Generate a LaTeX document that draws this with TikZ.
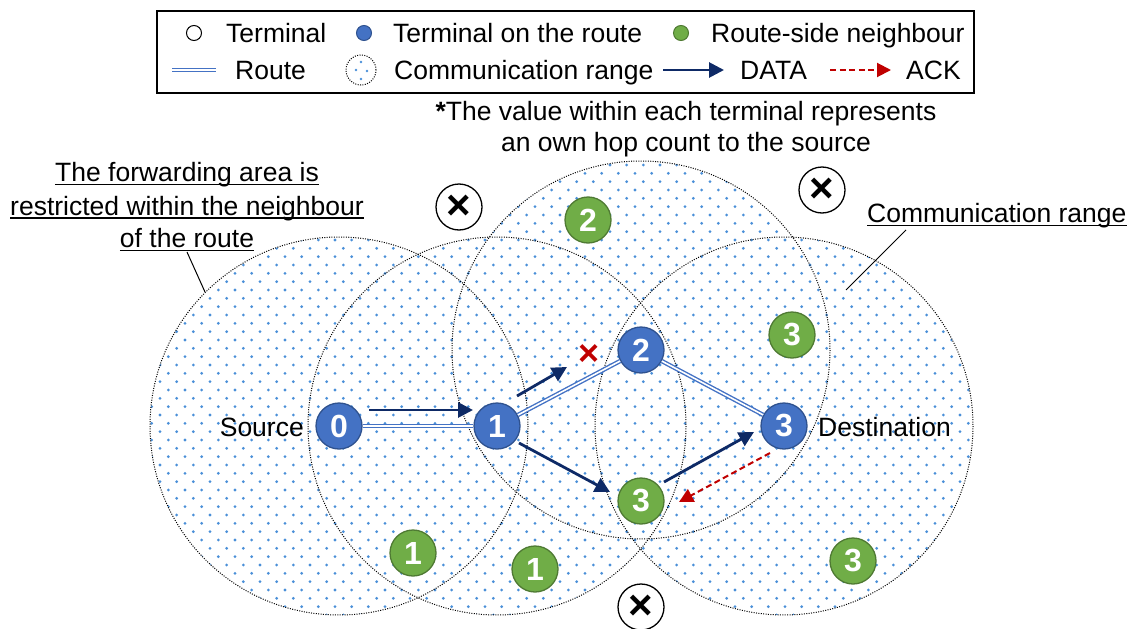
\documentclass[tikz,border=0pt]{standalone}
\usepackage{fontspec}
\setmainfont{Liberation Sans}
\usetikzlibrary{arrows.meta}

\definecolor{routeblue}{HTML}{4472C4}
\definecolor{routeedge}{HTML}{2F528F}
\definecolor{sidegreen}{HTML}{70AD47}
\definecolor{greenedge}{HTML}{4F7A33}
\definecolor{dotblue}{HTML}{4A8FD8}
\definecolor{datanavy}{HTML}{0E2A66}
\definecolor{ackred}{HTML}{C00000}

\begin{document}
\begin{tikzpicture}[x=1pt,y=-1pt,
  term/.style={circle, minimum size=46pt, inner sep=0pt, line width=1.3pt,
    text=white, font=\fontsize{32}{32}\selectfont\bfseries},
  onroute/.style={term, fill=routeblue, draw=routeedge},
  sidenb/.style={term, fill=sidegreen, draw=greenedge},
  blocked/.style={circle, minimum size=46pt, inner sep=0pt, line width=1.3pt,
    draw=black, fill=white, font=\fontsize{42}{42}\selectfont\bfseries},
  legmark/.style={circle, minimum size=15pt, inner sep=0pt, line width=1pt},
  rangeline/.style={draw=black, line width=1pt, dash pattern=on 1pt off 1.4pt},
  route/.style={draw=routeblue, double=white, double distance=1.6pt, line width=1.4pt},
  data/.style={draw=datanavy, line width=2.8pt, -{Triangle[length=15pt,width=15pt]}},
  ack/.style={draw=ackred, line width=2pt, dash pattern=on 6pt off 3.5pt,
    -{Triangle[length=14pt,width=14pt]}},
  lbl/.style={inner sep=0pt, font=\fontsize{26.5}{32}\selectfont},
  leader/.style={draw=black, line width=1pt},
  uline/.style={draw=black, line width=1.8pt}
]
\useasboundingbox (0,0) rectangle (1127,629);

% terminal positions
\coordinate (p0) at (339,426);
\coordinate (p1) at (497,426);
\coordinate (p2) at (641,350);
\coordinate (p3) at (784,426);

% dotted fill of the four communication ranges
\begin{scope}
  \clip (p0) circle[radius=189] (p1) circle[radius=189]
        (p2) circle[radius=189] (p3) circle[radius=189];
  \foreach \k in {-29,...,26}{
    \pgfmathsetmacro{\yy}{398.333+8.3333*\k}
    \pgfmathsetmacro{\xo}{160-8.3333*mod(\k+30,2)}
    \fill[dotblue] \foreach \i in {0,...,50}{ (\xo+16.6667*\i,\yy) circle[radius=1.55] };
  }
\end{scope}
\foreach \c in {p0,p1,p2,p3}
  \draw[rangeline] (\c) circle[radius=189];

% terminals on the route
\node[onroute] (n0) at (p0) {0};
\node[onroute] (n1) at (p1) {1};
\node[onroute] (n2) at (p2) {2};
\node[onroute] (n3) at (p3) {3};

% route-side neighbours
\node[sidenb] (g3a) at (641,501) {3};
\node[sidenb] (g2)  at (588,220) {2};
\node[sidenb] (g3b) at (792,335) {3};
\node[sidenb] (g1a) at (413,553) {1};
\node[sidenb] (g1b) at (535,569) {1};
\node[sidenb] (g3c) at (853,561) {3};

% terminals outside the forwarding area
\node[blocked] (x1) at (459,207) {×};
\node[blocked] (x2) at (822,190) {×};
\node[blocked] (x3) at (641,607) {×};

% the route
\draw[route] (n0) -- (n1);
\draw[route] (n1) -- (n2);
\draw[route] (n2) -- (n3);

% DATA and ACK transmissions
\node[text=ackred, inner sep=0pt, font=\fontsize{36}{36}\selectfont\bfseries] (lost) at (589,355) {×};
\draw[data] ([shift={(30,-16)}]n0.center) -- ([shift={(-24,-16)}]n1.center);
\draw[data] ([shift={(20,-30)}]n1.center) -- ([shift={(-22,12)}]lost.center);
\draw[data] ([shift={(22,17)}]n1.center) -- ([shift={(-31,-9)}]g3a.center);
\draw[data] ([shift={(23,-19)}]g3a.center) -- ([shift={(-30,6)}]n3.center);
\draw[ack]  ([shift={(-14,27)}]n3.center) -- ([shift={(38,1)}]g3a.center);

% end labels
\node[lbl, anchor=base east] (src) at (304,436) {Source};
\node[lbl, anchor=base west] (dst) at (818,436) {Destination};

% explanatory note
\node[lbl, anchor=base] (note1) at (686,120) {\textbf{*}The value within each terminal represents};
\node[lbl, anchor=base] (note2) at (686,151) {an own hop count to the source};

% annotation of the forwarding area
\node[lbl, anchor=base] (fa1) at (187,181.5) {The forwarding area is};
\node[lbl, anchor=base] (fa2) at (187,215) {restricted within the neighbour};
\node[lbl, anchor=base] (fa3) at (187,247.5) {of the route};
\foreach \t in {fa1,fa2,fa3}
  \draw[uline] ([yshift=-3pt]\t.base west) -- ([yshift=-3pt]\t.base east);
\coordinate (faA) at (187,252);
\coordinate (faB) at (205,292);
\draw[leader] (faA) -- (faB);

% annotation of the communication range
\node[lbl, anchor=base west] (cr) at (867,222) {Communication range};
\draw[uline] ([yshift=-3.5pt]cr.base west) -- ([yshift=-3.5pt]cr.base east);
\coordinate (crA) at (906,230);
\coordinate (crB) at (846,290);
\draw[leader] (crA) -- (crB);

% legend
\node[draw=black, line width=2pt, minimum width=817pt, minimum height=82pt,
  inner sep=0pt] (legend) at (565.5,52) {};
\node[legmark, draw=black, fill=white] (lm1) at (194,33) {};
\node[lbl, anchor=base west] (lt1) at (226,42.5) {Terminal};
\node[legmark, draw=routeedge, fill=routeblue] (lm2) at (364,33) {};
\node[lbl, anchor=base west] (lt2) at (393,42.5) {Terminal on the route};
\node[legmark, draw=greenedge, fill=sidegreen] (lm3) at (681,33) {};
\node[lbl, anchor=base west] (lt3) at (711,42.5) {Route-side neighbour};

\coordinate (lrA) at (172,70);
\coordinate (lrB) at (216,70);
\draw[route] (lrA) -- (lrB);
\node[lbl, anchor=base west] (lt4) at (235,79.5) {Route};
\node[circle, minimum size=30pt, inner sep=0pt, rangeline] (lm5) at (361,70) {};
\fill[dotblue] ([shift={(0,-8)}]lm5.center) circle[radius=1.4]
               ([shift={(-5,0)}]lm5.center) circle[radius=1.4]
               ([shift={(6,1)}]lm5.center) circle[radius=1.4]
               ([shift={(0,9)}]lm5.center) circle[radius=1.4];
\node[lbl, anchor=base west] (lt5) at (394,79.5) {Communication range};
\coordinate (ldA) at (663,70);
\coordinate (ldB) at (724,70);
\draw[data] (ldA) -- (ldB);
\node[lbl, anchor=base west] (lt6) at (740,79.5) {DATA};
\coordinate (laA) at (830,70);
\coordinate (laB) at (891,70);
\draw[ack] (laA) -- (laB);
\node[lbl, anchor=base west] (lt7) at (906,79.5) {ACK};
\end{tikzpicture}
\end{document}
